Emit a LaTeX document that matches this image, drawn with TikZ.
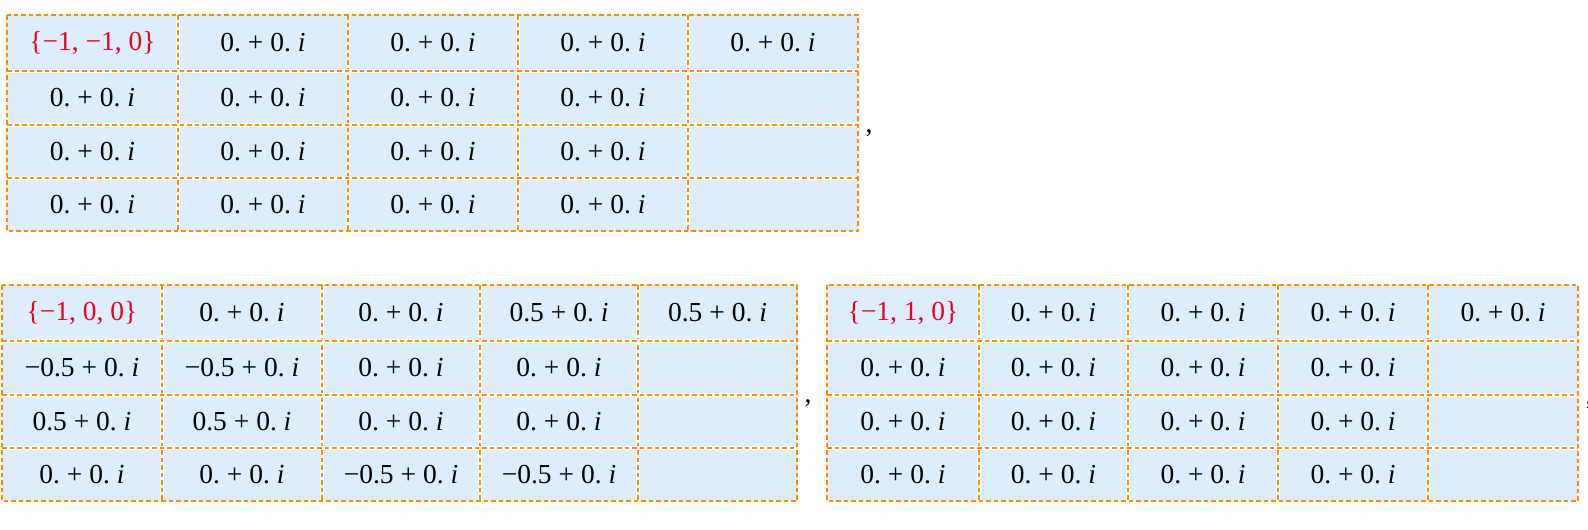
\documentclass[tikz,border=0pt]{standalone}
\usepackage{fontspec}
\setmainfont{Liberation Serif}
\definecolor{cellblue}{RGB}{221,237,251}
\definecolor{gridorange}{RGB}{255,140,0}
\definecolor{headred}{RGB}{238,0,34}
\newcommand{\zz}{0.\ +\ 0.\ \textit{i}}
\newcommand{\hp}{0.5\ +\ 0.\ \textit{i}}
\newcommand{\hm}{−0.5\ +\ 0.\ \textit{i}}
\tikzset{
  gridline/.style={draw=gridorange, line width=2.4pt, dash pattern=on 4.5pt off 3pt},
  gapline/.style={draw=white, line width=3.2pt},
  val/.style={font=\fontsize{27.5}{30}\selectfont, text=black, inner sep=0pt},
  hdr/.style={val, text=headred},
  punct/.style={font=\fontsize{27.5}{30}\selectfont, inner sep=0pt}
}
\begin{document}
\begin{tikzpicture}[x=1pt,y=-1pt]
\useasboundingbox (0,0) rectangle (1588,530);
% ---------- Table A ----------
\fill[cellblue] (7,15) rectangle (858,231);
\foreach \x in {178,348,518,688} {\draw[gapline] (\x,15) -- (\x,231); \draw[gridline] (\x,15) -- (\x,231);}
\foreach \y in {71,125,178} {\draw[gapline] (7,\y) -- (858,\y); \draw[gridline] (7,\y) -- (858,\y);}
\draw[gridline] (7,15) rectangle (858,231);
\node[hdr] (a11) at (92.5,43) {\{−1, −1, 0\}};
\node[val] (a12) at (263,43) {\zz};
\node[val] (a13) at (433,43) {\zz};
\node[val] (a14) at (603,43) {\zz};
\node[val] (a15) at (773,43) {\zz};
\node[val] (a21) at (92.5,98) {\zz};
\node[val] (a22) at (263,98) {\zz};
\node[val] (a23) at (433,98) {\zz};
\node[val] (a24) at (603,98) {\zz};
\node[val] (a31) at (92.5,151.5) {\zz};
\node[val] (a32) at (263,151.5) {\zz};
\node[val] (a33) at (433,151.5) {\zz};
\node[val] (a34) at (603,151.5) {\zz};
\node[val] (a41) at (92.5,204.5) {\zz};
\node[val] (a42) at (263,204.5) {\zz};
\node[val] (a43) at (433,204.5) {\zz};
\node[val] (a44) at (603,204.5) {\zz};
\node[punct] (ca) at (869,133) {,};
% ---------- Table B ----------
\fill[cellblue] (2,285) rectangle (797,501);
\foreach \x in {162,322,480,638} {\draw[gapline] (\x,285) -- (\x,501); \draw[gridline] (\x,285) -- (\x,501);}
\foreach \y in {341,395,448} {\draw[gapline] (2,\y) -- (797,\y); \draw[gridline] (2,\y) -- (797,\y);}
\draw[gridline] (2,285) rectangle (797,501);
\node[hdr] (b11) at (82,313) {\{−1, 0, 0\}};
\node[val] (b12) at (242,313) {\zz};
\node[val] (b13) at (401,313) {\zz};
\node[val] (b14) at (559,313) {\hp};
\node[val] (b15) at (717.5,313) {\hp};
\node[val] (b21) at (82,368) {\hm};
\node[val] (b22) at (242,368) {\hm};
\node[val] (b23) at (401,368) {\zz};
\node[val] (b24) at (559,368) {\zz};
\node[val] (b31) at (82,421.5) {\hp};
\node[val] (b32) at (242,421.5) {\hp};
\node[val] (b33) at (401,421.5) {\zz};
\node[val] (b34) at (559,421.5) {\zz};
\node[val] (b41) at (82,474.5) {\zz};
\node[val] (b42) at (242,474.5) {\zz};
\node[val] (b43) at (401,474.5) {\hm};
\node[val] (b44) at (559,474.5) {\hm};
\node[punct] (cb) at (808,403) {,};
% ---------- Table C ----------
\fill[cellblue] (827,285) rectangle (1578,501);
\foreach \x in {979,1128,1278,1428} {\draw[gapline] (\x,285) -- (\x,501); \draw[gridline] (\x,285) -- (\x,501);}
\foreach \y in {341,395,448} {\draw[gapline] (827,\y) -- (1578,\y); \draw[gridline] (827,\y) -- (1578,\y);}
\draw[gridline] (827,285) rectangle (1578,501);
\node[hdr] (c11) at (903,313) {\{−1, 1, 0\}};
\node[val] (c12) at (1053.5,313) {\zz};
\node[val] (c13) at (1203,313) {\zz};
\node[val] (c14) at (1353,313) {\zz};
\node[val] (c15) at (1503,313) {\zz};
\node[val] (c21) at (903,368) {\zz};
\node[val] (c22) at (1053.5,368) {\zz};
\node[val] (c23) at (1203,368) {\zz};
\node[val] (c24) at (1353,368) {\zz};
\node[val] (c31) at (903,421.5) {\zz};
\node[val] (c32) at (1053.5,421.5) {\zz};
\node[val] (c33) at (1203,421.5) {\zz};
\node[val] (c34) at (1353,421.5) {\zz};
\node[val] (c41) at (903,474.5) {\zz};
\node[val] (c42) at (1053.5,474.5) {\zz};
\node[val] (c43) at (1203,474.5) {\zz};
\node[val] (c44) at (1353,474.5) {\zz};
\node[punct] (cc) at (1589,405) {,};
\end{tikzpicture}
\end{document}
